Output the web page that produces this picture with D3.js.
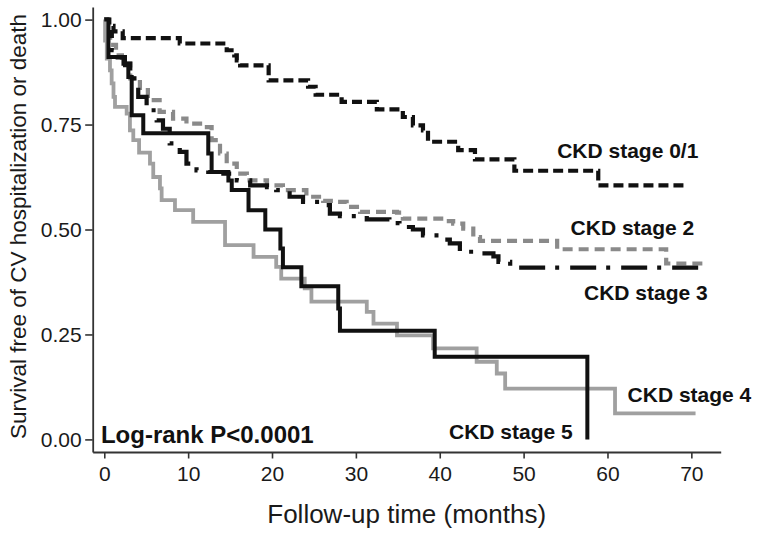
<!DOCTYPE html>
<html>
<head>
<meta charset="utf-8">
<script src="https://cdn.jsdelivr.net/npm/d3@7"></script>
<style>
  html, body { margin: 0; padding: 0; background: #fff; }
  svg { display: block; }
  text { font-family: "Liberation Sans", Arial, Helvetica, sans-serif; }
</style>
</head>
<body>
<div id="chart"></div>
<script>
// ---- Data ----
const seriesNames = ["CKD stage 0/1", "CKD stage 2", "CKD stage 3", "CKD stage 4", "CKD stage 5"];

const stage01Time = [0, 0.6, 1.1, 2.2, 9.0, 14.6, 15.5, 15.8, 16.2, 19.6, 24.3, 25.2, 28.3, 32.5, 35.6, 36.8, 38.0, 38.6, 42.2, 44.2, 48.9, 58.9, 69.6];
const stage01Surv = [1.0, 0.985, 0.972, 0.956, 0.943, 0.927, 0.915, 0.903, 0.891, 0.855, 0.84, 0.821, 0.804, 0.786, 0.768, 0.748, 0.736, 0.709, 0.689, 0.667, 0.640, 0.605, 0.605];

const stage2Time = [0, 0.3, 0.7, 1.4, 2.1, 3.1, 4.25, 5.2, 6.6, 8.2, 9.8, 11.8, 12.8, 13.8, 14.6, 15.8, 17.0, 19.4, 21.3, 24.1, 26.1, 27.7, 28.9, 30.5, 34.9, 35.6, 40.8, 41.6, 42.8, 44.0, 44.8, 54.0, 67.0, 71.8];
const stage2Surv = [1.0, 0.97, 0.94, 0.915, 0.895, 0.86, 0.832, 0.808, 0.78, 0.764, 0.752, 0.744, 0.713, 0.681, 0.657, 0.633, 0.617, 0.605, 0.594, 0.578, 0.568, 0.566, 0.554, 0.542, 0.540, 0.526, 0.520, 0.514, 0.502, 0.482, 0.473, 0.453, 0.419, 0.419];

const stage3Time = [0, 0.3, 0.9, 1.6, 2.3, 3.1, 4.05, 5.05, 6.25, 7.0, 7.8, 9.0, 9.8, 11.0, 12.4, 14.2, 15.8, 17.4, 19.4, 20.5, 22.1, 23.7, 25.7, 26.9, 28.1, 31.3, 34.0, 35.2, 36.8, 38.0, 40.0, 41.2, 42.4, 44.0, 46.4, 47.0, 48.4, 71.6];
const stage3Surv = [1.0, 0.97, 0.927, 0.91, 0.895, 0.86, 0.816, 0.784, 0.760, 0.74, 0.705, 0.685, 0.657, 0.641, 0.637, 0.633, 0.617, 0.605, 0.601, 0.594, 0.578, 0.566, 0.558, 0.538, 0.532, 0.524, 0.515, 0.506, 0.50, 0.486, 0.476, 0.467, 0.447, 0.443, 0.436, 0.423, 0.409, 0.409];

const stage4Time = [0, 0.1, 0.3, 0.68, 0.88, 1.1, 1.28, 2.67, 3.06, 3.46, 4.15, 5.45, 5.84, 6.64, 6.84, 8.43, 10.6, 14.4, 17.8, 20.5, 21.1, 23.9, 24.7, 31.3, 32.1, 34.9, 39.2, 44.4, 46.8, 47.8, 60.9, 70.5];
const stage4Surv = [1.0, 0.95, 0.907, 0.879, 0.848, 0.816, 0.792, 0.776, 0.736, 0.713, 0.683, 0.657, 0.625, 0.598, 0.570, 0.546, 0.518, 0.463, 0.435, 0.411, 0.383, 0.36, 0.328, 0.304, 0.276, 0.248, 0.217, 0.185, 0.157, 0.121, 0.062, 0.062];

const stage5Time = [0, 0.5, 2.47, 2.87, 3.27, 4.65, 12.4, 12.8, 14.8, 15.2, 17.2, 19.2, 21.0, 21.3, 23.5, 27.9, 28.1, 39.4, 57.6];
const stage5Surv = [1.0, 0.911, 0.891, 0.863, 0.772, 0.729, 0.681, 0.637, 0.617, 0.594, 0.546, 0.5, 0.455, 0.41, 0.365, 0.312, 0.259, 0.197, 0.0];

const xTicks = [0, 10, 20, 30, 40, 50, 60, 70];
const yTicks = [0, 0.25, 0.5, 0.75, 1.0];
const xTitle = "Follow-up time (months)";
const yTitle = "Survival free of CV hospitalization or death";
const pLabel = "Log-rank P<0.0001";

// ---- Layout / style ----
const W = 764, H = 535;
const styles = [
  { color: "#111", dash: "10,5", width: 4.2 },
  { color: "#8a8a8a", dash: "10,6", width: 4.2 },
  { color: "#111", dash: "26,10,4,11", width: 4.2 },
  { color: "#a0a0a0", dash: null, width: 3.8 },
  { color: "#111", dash: null, width: 4.0 }
];
// label anchors in data units (time, survival)
const labelAnchors = [[54.0, 0.670], [55.6, 0.487], [57.2, 0.332], [62.4, 0.090], [41.1, 0.0]];

const series = [
  [stage01Time, stage01Surv],
  [stage2Time, stage2Surv],
  [stage3Time, stage3Surv],
  [stage4Time, stage4Surv],
  [stage5Time, stage5Surv]
].map(([t, s], i) => ({ name: seriesNames[i], pts: t.map((v, j) => [v, s[j]]) }));

const svg = d3.select("#chart").append("svg").attr("width", W).attr("height", H);

const x = d3.scaleLinear().domain([-1.38, 73.5]).range([92.7, 720.7]);
const y = d3.scaleLinear().domain([-0.03, 1.03]).range([452, 7]);

// Axes
const yAxis = d3.axisLeft(y).tickValues(yTicks).tickFormat(d3.format(".2f"))
  .tickSize(7.5).tickSizeOuter(0).tickPadding(3.5);
const gy = svg.append("g").attr("transform", `translate(${x.range()[0]},0)`).call(yAxis);
gy.selectAll("text").style("font-size", "21px").attr("fill", "#1a1a1a");

const xAxis = d3.axisBottom(x).tickValues(xTicks).tickSize(6.5).tickSizeOuter(0).tickPadding(8);
const gx = svg.append("g").attr("transform", `translate(0,${y.range()[0]})`).call(xAxis);
gx.selectAll("text").style("font-size", "21px").attr("fill", "#1a1a1a");

[gx, gy].forEach(g => {
  g.select(".domain").attr("stroke", "#333").attr("stroke-width", 1.8);
  g.selectAll(".tick line").attr("stroke", "#333").attr("stroke-width", 1.6);
});

// Curves
const line = d3.line().x(d => x(d[0])).y(d => y(d[1])).curve(d3.curveStepAfter);
svg.append("g").selectAll("path").data(series).join("path")
  .attr("d", d => line(d.pts))
  .attr("fill", "none")
  .attr("stroke", (d, i) => styles[i].color)
  .attr("stroke-width", (d, i) => styles[i].width)
  .attr("stroke-dasharray", (d, i) => styles[i].dash)
  .attr("stroke-linejoin", "miter");

// Series labels
svg.append("g").selectAll("text").data(series).join("text")
  .attr("x", (d, i) => x(labelAnchors[i][0]))
  .attr("y", (d, i) => y(labelAnchors[i][1]))
  .attr("font-weight", "bold")
  .style("font-size", "21px")
  .attr("fill", "#111")
  .text(d => d.name);

// Log-rank label
svg.append("text")
  .attr("x", x(-0.4)).attr("y", y(-0.008))
  .attr("font-weight", "bold").style("font-size", "24px").attr("fill", "#111")
  .text(pLabel);

// Axis titles
svg.append("text")
  .attr("x", (x.range()[0] + x.range()[1]) / 2).attr("y", 523.3)
  .attr("text-anchor", "middle").style("font-size", "26px").attr("fill", "#1a1a1a")
  .text(xTitle);

svg.append("text")
  .attr("transform", `translate(26,226.5) rotate(-90)`)
  .attr("text-anchor", "middle").style("font-size", "22.5px").attr("fill", "#1a1a1a")
  .text(yTitle);
</script>
</body>
</html>
